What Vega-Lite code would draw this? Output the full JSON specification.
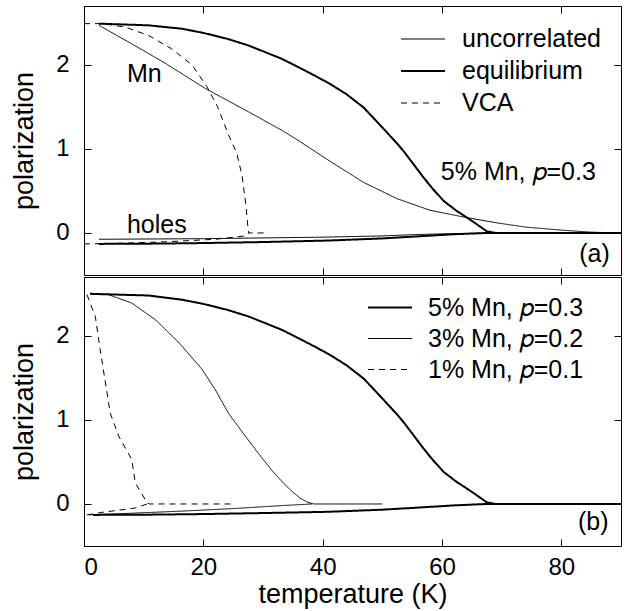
{
  "$schema": "https://vega.github.io/schema/vega-lite/v6.json",
  "padding": {"left": 10, "top": 5, "right": 10, "bottom": 5},
  "spacing": 0,
  "config": {
    "font": "Liberation Sans",
    "view": {"stroke": "#000", "strokeWidth": 1},
    "axis": {"domain": false, "grid": false, "tickColor": "#000", "tickSize": -7, "labelFontSize": 24, "labelColor": "#000", "labelPadding": 22, "titleFontSize": 27, "titleFontWeight": "normal", "titleColor": "#000", "titlePadding": 10},
    "axisX": {"labelPadding": 16, "titlePadding": 2},
    "axisY": {"titlePadding": 17},
    "legend": {"orient": "none", "title": null, "labelFontSize": 25, "labelColor": "#000", "symbolType": "stroke", "symbolSize": 1936, "symbolStrokeColor": "#000", "padding": 0, "rowPadding": 0, "labelFont": "Liberation Sans"},
    "text": {"font": "Liberation Sans", "fontSize": 25, "color": "#000", "align": "left", "baseline": "alphabetic"}
  },
  "datasets": {
    "a": [
      {"m": "equilibrium", "p": "Mn", "T": 2.5, "P": 2.49},
      {"m": "equilibrium", "p": "Mn", "T": 10.8, "P": 2.47},
      {"m": "equilibrium", "p": "Mn", "T": 16.4, "P": 2.43},
      {"m": "equilibrium", "p": "Mn", "T": 20, "P": 2.38},
      {"m": "equilibrium", "p": "Mn", "T": 24, "P": 2.31},
      {"m": "equilibrium", "p": "Mn", "T": 27.6, "P": 2.23},
      {"m": "equilibrium", "p": "Mn", "T": 33.2, "P": 2.07},
      {"m": "equilibrium", "p": "Mn", "T": 36, "P": 1.97},
      {"m": "equilibrium", "p": "Mn", "T": 39, "P": 1.86},
      {"m": "equilibrium", "p": "Mn", "T": 41.3, "P": 1.77},
      {"m": "equilibrium", "p": "Mn", "T": 44, "P": 1.65},
      {"m": "equilibrium", "p": "Mn", "T": 46.9, "P": 1.49},
      {"m": "equilibrium", "p": "Mn", "T": 50.2, "P": 1.24},
      {"m": "equilibrium", "p": "Mn", "T": 52.4, "P": 1.07},
      {"m": "equilibrium", "p": "Mn", "T": 53.6, "P": 0.97},
      {"m": "equilibrium", "p": "Mn", "T": 55.2, "P": 0.82},
      {"m": "equilibrium", "p": "Mn", "T": 56.9, "P": 0.66},
      {"m": "equilibrium", "p": "Mn", "T": 58.5, "P": 0.52},
      {"m": "equilibrium", "p": "Mn", "T": 60.3, "P": 0.38},
      {"m": "equilibrium", "p": "Mn", "T": 62.5, "P": 0.26},
      {"m": "equilibrium", "p": "Mn", "T": 63.6, "P": 0.21},
      {"m": "equilibrium", "p": "Mn", "T": 65.5, "P": 0.12},
      {"m": "equilibrium", "p": "Mn", "T": 67.5, "P": 0.02},
      {"m": "equilibrium", "p": "Mn", "T": 69, "P": 0},
      {"m": "equilibrium", "p": "Mn", "T": 90, "P": 0},
      {"m": "equilibrium", "p": "holes", "T": 2.5, "P": -0.13},
      {"m": "equilibrium", "p": "holes", "T": 10, "P": -0.128},
      {"m": "equilibrium", "p": "holes", "T": 20, "P": -0.12},
      {"m": "equilibrium", "p": "holes", "T": 30, "P": -0.108},
      {"m": "equilibrium", "p": "holes", "T": 41, "P": -0.09},
      {"m": "equilibrium", "p": "holes", "T": 50, "P": -0.065},
      {"m": "equilibrium", "p": "holes", "T": 56, "P": -0.04},
      {"m": "equilibrium", "p": "holes", "T": 62, "P": -0.015},
      {"m": "equilibrium", "p": "holes", "T": 67.5, "P": 0},
      {"m": "equilibrium", "p": "holes", "T": 90, "P": 0},
      {"m": "uncorrelated", "p": "Mn", "T": 2.5, "P": 2.47},
      {"m": "uncorrelated", "p": "Mn", "T": 8, "P": 2.25},
      {"m": "uncorrelated", "p": "Mn", "T": 13.6, "P": 2.02},
      {"m": "uncorrelated", "p": "Mn", "T": 20.3, "P": 1.72},
      {"m": "uncorrelated", "p": "Mn", "T": 27.6, "P": 1.44},
      {"m": "uncorrelated", "p": "Mn", "T": 33.2, "P": 1.22},
      {"m": "uncorrelated", "p": "Mn", "T": 35.7, "P": 1.11},
      {"m": "uncorrelated", "p": "Mn", "T": 41.3, "P": 0.85},
      {"m": "uncorrelated", "p": "Mn", "T": 46.9, "P": 0.6},
      {"m": "uncorrelated", "p": "Mn", "T": 52.4, "P": 0.41},
      {"m": "uncorrelated", "p": "Mn", "T": 58, "P": 0.27},
      {"m": "uncorrelated", "p": "Mn", "T": 63.6, "P": 0.19},
      {"m": "uncorrelated", "p": "Mn", "T": 69.2, "P": 0.12},
      {"m": "uncorrelated", "p": "Mn", "T": 74, "P": 0.07},
      {"m": "uncorrelated", "p": "Mn", "T": 79.8, "P": 0.035},
      {"m": "uncorrelated", "p": "Mn", "T": 84.8, "P": 0.01},
      {"m": "uncorrelated", "p": "Mn", "T": 90, "P": 0},
      {"m": "uncorrelated", "p": "holes", "T": 2.5, "P": -0.075},
      {"m": "uncorrelated", "p": "holes", "T": 20, "P": -0.068},
      {"m": "uncorrelated", "p": "holes", "T": 40, "P": -0.05},
      {"m": "uncorrelated", "p": "holes", "T": 50, "P": -0.035},
      {"m": "uncorrelated", "p": "holes", "T": 56, "P": -0.018},
      {"m": "uncorrelated", "p": "holes", "T": 62, "P": -0.008},
      {"m": "uncorrelated", "p": "holes", "T": 70, "P": -0.002},
      {"m": "uncorrelated", "p": "holes", "T": 90, "P": 0},
      {"m": "VCA", "p": "Mn", "T": 0, "P": 2.49},
      {"m": "VCA", "p": "Mn", "T": 3, "P": 2.49},
      {"m": "VCA", "p": "Mn", "T": 6.9, "P": 2.45},
      {"m": "VCA", "p": "Mn", "T": 10.8, "P": 2.35},
      {"m": "VCA", "p": "Mn", "T": 14.7, "P": 2.19},
      {"m": "VCA", "p": "Mn", "T": 18.1, "P": 2.0},
      {"m": "VCA", "p": "Mn", "T": 20.6, "P": 1.74},
      {"m": "VCA", "p": "Mn", "T": 22.4, "P": 1.5},
      {"m": "VCA", "p": "Mn", "T": 24.2, "P": 1.17},
      {"m": "VCA", "p": "Mn", "T": 25.6, "P": 0.95},
      {"m": "VCA", "p": "Mn", "T": 26.5, "P": 0.68},
      {"m": "VCA", "p": "Mn", "T": 27.1, "P": 0.35},
      {"m": "VCA", "p": "Mn", "T": 27.5, "P": 0.05},
      {"m": "VCA", "p": "Mn", "T": 27.6, "P": 0},
      {"m": "VCA", "p": "Mn", "T": 30.2, "P": 0},
      {"m": "VCA", "p": "holes", "T": 0, "P": -0.13},
      {"m": "VCA", "p": "holes", "T": 5, "P": -0.125},
      {"m": "VCA", "p": "holes", "T": 13.7, "P": -0.105},
      {"m": "VCA", "p": "holes", "T": 22, "P": -0.075},
      {"m": "VCA", "p": "holes", "T": 27, "P": -0.035},
      {"m": "VCA", "p": "holes", "T": 27.6, "P": 0}
    ],
    "b": [
      {"m": "5% Mn, 𝑝=0.3", "p": "Mn", "T": 1, "P": 2.5},
      {"m": "5% Mn, 𝑝=0.3", "p": "Mn", "T": 10.8, "P": 2.48},
      {"m": "5% Mn, 𝑝=0.3", "p": "Mn", "T": 16.4, "P": 2.43},
      {"m": "5% Mn, 𝑝=0.3", "p": "Mn", "T": 20, "P": 2.38},
      {"m": "5% Mn, 𝑝=0.3", "p": "Mn", "T": 24, "P": 2.31},
      {"m": "5% Mn, 𝑝=0.3", "p": "Mn", "T": 27.6, "P": 2.23},
      {"m": "5% Mn, 𝑝=0.3", "p": "Mn", "T": 33.2, "P": 2.07},
      {"m": "5% Mn, 𝑝=0.3", "p": "Mn", "T": 36, "P": 1.97},
      {"m": "5% Mn, 𝑝=0.3", "p": "Mn", "T": 39, "P": 1.86},
      {"m": "5% Mn, 𝑝=0.3", "p": "Mn", "T": 41.3, "P": 1.77},
      {"m": "5% Mn, 𝑝=0.3", "p": "Mn", "T": 44, "P": 1.65},
      {"m": "5% Mn, 𝑝=0.3", "p": "Mn", "T": 46.9, "P": 1.49},
      {"m": "5% Mn, 𝑝=0.3", "p": "Mn", "T": 50.2, "P": 1.24},
      {"m": "5% Mn, 𝑝=0.3", "p": "Mn", "T": 52.4, "P": 1.07},
      {"m": "5% Mn, 𝑝=0.3", "p": "Mn", "T": 53.6, "P": 0.97},
      {"m": "5% Mn, 𝑝=0.3", "p": "Mn", "T": 55.2, "P": 0.82},
      {"m": "5% Mn, 𝑝=0.3", "p": "Mn", "T": 56.9, "P": 0.66},
      {"m": "5% Mn, 𝑝=0.3", "p": "Mn", "T": 58.5, "P": 0.52},
      {"m": "5% Mn, 𝑝=0.3", "p": "Mn", "T": 60.3, "P": 0.38},
      {"m": "5% Mn, 𝑝=0.3", "p": "Mn", "T": 62.5, "P": 0.26},
      {"m": "5% Mn, 𝑝=0.3", "p": "Mn", "T": 63.6, "P": 0.21},
      {"m": "5% Mn, 𝑝=0.3", "p": "Mn", "T": 65.5, "P": 0.12},
      {"m": "5% Mn, 𝑝=0.3", "p": "Mn", "T": 67.5, "P": 0.02},
      {"m": "5% Mn, 𝑝=0.3", "p": "Mn", "T": 69, "P": 0},
      {"m": "5% Mn, 𝑝=0.3", "p": "Mn", "T": 90, "P": 0},
      {"m": "5% Mn, 𝑝=0.3", "p": "holes", "T": 1.5, "P": -0.13},
      {"m": "5% Mn, 𝑝=0.3", "p": "holes", "T": 10, "P": -0.128},
      {"m": "5% Mn, 𝑝=0.3", "p": "holes", "T": 20, "P": -0.12},
      {"m": "5% Mn, 𝑝=0.3", "p": "holes", "T": 30, "P": -0.108},
      {"m": "5% Mn, 𝑝=0.3", "p": "holes", "T": 41, "P": -0.093},
      {"m": "5% Mn, 𝑝=0.3", "p": "holes", "T": 50, "P": -0.068},
      {"m": "5% Mn, 𝑝=0.3", "p": "holes", "T": 56, "P": -0.043},
      {"m": "5% Mn, 𝑝=0.3", "p": "holes", "T": 62, "P": -0.017},
      {"m": "5% Mn, 𝑝=0.3", "p": "holes", "T": 67.5, "P": 0},
      {"m": "5% Mn, 𝑝=0.3", "p": "holes", "T": 90, "P": 0},
      {"m": "3% Mn, 𝑝=0.2", "p": "Mn", "T": 1, "P": 2.5},
      {"m": "3% Mn, 𝑝=0.2", "p": "Mn", "T": 4.1, "P": 2.49},
      {"m": "3% Mn, 𝑝=0.2", "p": "Mn", "T": 8, "P": 2.39},
      {"m": "3% Mn, 𝑝=0.2", "p": "Mn", "T": 12, "P": 2.19},
      {"m": "3% Mn, 𝑝=0.2", "p": "Mn", "T": 15.9, "P": 1.92},
      {"m": "3% Mn, 𝑝=0.2", "p": "Mn", "T": 19.8, "P": 1.6},
      {"m": "3% Mn, 𝑝=0.2", "p": "Mn", "T": 22, "P": 1.36},
      {"m": "3% Mn, 𝑝=0.2", "p": "Mn", "T": 24.2, "P": 1.08},
      {"m": "3% Mn, 𝑝=0.2", "p": "Mn", "T": 27, "P": 0.81},
      {"m": "3% Mn, 𝑝=0.2", "p": "Mn", "T": 29.8, "P": 0.55},
      {"m": "3% Mn, 𝑝=0.2", "p": "Mn", "T": 31.6, "P": 0.39},
      {"m": "3% Mn, 𝑝=0.2", "p": "Mn", "T": 33.4, "P": 0.25},
      {"m": "3% Mn, 𝑝=0.2", "p": "Mn", "T": 35, "P": 0.14},
      {"m": "3% Mn, 𝑝=0.2", "p": "Mn", "T": 36.2, "P": 0.07},
      {"m": "3% Mn, 𝑝=0.2", "p": "Mn", "T": 37.5, "P": 0.02},
      {"m": "3% Mn, 𝑝=0.2", "p": "Mn", "T": 38.5, "P": 0},
      {"m": "3% Mn, 𝑝=0.2", "p": "Mn", "T": 50, "P": 0},
      {"m": "3% Mn, 𝑝=0.2", "p": "holes", "T": 0.8, "P": -0.13},
      {"m": "3% Mn, 𝑝=0.2", "p": "holes", "T": 8, "P": -0.11},
      {"m": "3% Mn, 𝑝=0.2", "p": "holes", "T": 16.4, "P": -0.085},
      {"m": "3% Mn, 𝑝=0.2", "p": "holes", "T": 25, "P": -0.055},
      {"m": "3% Mn, 𝑝=0.2", "p": "holes", "T": 33, "P": -0.02},
      {"m": "3% Mn, 𝑝=0.2", "p": "holes", "T": 38.2, "P": 0},
      {"m": "1% Mn, 𝑝=0.1", "p": "Mn", "T": 0.5, "P": 2.49},
      {"m": "1% Mn, 𝑝=0.1", "p": "Mn", "T": 1.9, "P": 2.23},
      {"m": "1% Mn, 𝑝=0.1", "p": "Mn", "T": 2.7, "P": 1.84},
      {"m": "1% Mn, 𝑝=0.1", "p": "Mn", "T": 3.6, "P": 1.44},
      {"m": "1% Mn, 𝑝=0.1", "p": "Mn", "T": 4.4, "P": 1.08},
      {"m": "1% Mn, 𝑝=0.1", "p": "Mn", "T": 5.8, "P": 0.81},
      {"m": "1% Mn, 𝑝=0.1", "p": "Mn", "T": 8, "P": 0.53},
      {"m": "1% Mn, 𝑝=0.1", "p": "Mn", "T": 8.6, "P": 0.25},
      {"m": "1% Mn, 𝑝=0.1", "p": "Mn", "T": 10.6, "P": 0.01},
      {"m": "1% Mn, 𝑝=0.1", "p": "Mn", "T": 11, "P": 0},
      {"m": "1% Mn, 𝑝=0.1", "p": "Mn", "T": 25, "P": 0},
      {"m": "1% Mn, 𝑝=0.1", "p": "holes", "T": 0.5, "P": -0.13},
      {"m": "1% Mn, 𝑝=0.1", "p": "holes", "T": 3, "P": -0.1},
      {"m": "1% Mn, 𝑝=0.1", "p": "holes", "T": 8.6, "P": -0.048},
      {"m": "1% Mn, 𝑝=0.1", "p": "holes", "T": 10.6, "P": 0}
    ],
    "annA": [
      {"T": 7.2, "P": 1.79, "label": "Mn"},
      {"T": 7.2, "P": 0.0, "label": "holes"},
      {"T": 59.8, "P": 0.635, "label": "5% Mn, 𝑝=0.3"},
      {"T": 83.0, "P": -0.34, "label": "(a)"}
    ],
    "annB": [
      {"T": 82.8, "P": -0.31, "label": "(b)"}
    ]
  },
  "vconcat": [
    {
      "width": 537,
      "height": 269,
      "layer": [
        {
          "data": {"name": "a"},
          "mark": {"type": "line", "color": "#000", "strokeCap": "butt"},
          "encoding": {
            "x": {"field": "T", "type": "quantitative", "scale": {"domain": [0, 90], "nice": false, "zero": false}, "axis": {"orient": "bottom", "values": [0, 20, 40, 60, 80], "labels": false, "title": null}},
            "y": {"field": "P", "type": "quantitative", "scale": {"domain": [-0.5, 2.7], "nice": false, "zero": false}, "axis": {"orient": "left", "values": [0, 1, 2], "title": "polarization"}},
            "detail": {"field": "p"},
            "strokeDash": {"field": "m", "type": "nominal", "scale": {"domain": ["uncorrelated", "equilibrium", "VCA"], "range": [[1, 0], [1, 0], [6, 5]]}, "legend": {"legendX": 316, "legendY": 17, "labelOffset": 16, "clipHeight": 32}},
            "strokeWidth": {"field": "m", "type": "nominal", "scale": {"type": "ordinal", "domain": ["uncorrelated", "equilibrium", "VCA"], "range": [1, 2, 1]}, "legend": {"legendX": 316, "legendY": 17, "labelOffset": 16, "clipHeight": 32}}
          }
        },
        {
          "data": {"name": "annA"},
          "mark": {"type": "text"},
          "encoding": {
            "x": {"field": "T", "type": "quantitative", "axis": {"orient": "top", "values": [0, 20, 40, 60, 80], "labels": false, "title": null}},
            "y": {"field": "P", "type": "quantitative", "axis": {"orient": "right", "values": [0, 1, 2], "labels": false, "title": null}},
            "text": {"field": "label"}
          }
        }
      ],
      "resolve": {"axis": {"x": "independent", "y": "independent"}}
    },
    {
      "width": 537,
      "height": 269,
      "layer": [
        {
          "data": {"name": "b"},
          "mark": {"type": "line", "color": "#000", "strokeCap": "butt"},
          "encoding": {
            "x": {"field": "T", "type": "quantitative", "scale": {"domain": [0, 90], "nice": false, "zero": false}, "axis": {"orient": "bottom", "values": [0, 20, 40, 60, 80], "title": "temperature (K)"}},
            "y": {"field": "P", "type": "quantitative", "scale": {"domain": [-0.5, 2.7], "nice": false, "zero": false}, "axis": {"orient": "left", "values": [0, 1, 2], "title": "polarization"}},
            "detail": {"field": "p"},
            "strokeDash": {"field": "m", "type": "nominal", "scale": {"domain": ["5% Mn, 𝑝=0.3", "3% Mn, 𝑝=0.2", "1% Mn, 𝑝=0.1"], "range": [[1, 0], [1, 0], [6, 5]]}, "legend": {"legendX": 283, "legendY": 15, "labelOffset": 15, "clipHeight": 31}},
            "strokeWidth": {"field": "m", "type": "nominal", "scale": {"type": "ordinal", "domain": ["5% Mn, 𝑝=0.3", "3% Mn, 𝑝=0.2", "1% Mn, 𝑝=0.1"], "range": [2, 1, 1]}, "legend": {"legendX": 283, "legendY": 15, "labelOffset": 15, "clipHeight": 31}}
          }
        },
        {
          "data": {"name": "annB"},
          "mark": {"type": "text"},
          "encoding": {
            "x": {"field": "T", "type": "quantitative", "axis": {"orient": "top", "values": [0, 20, 40, 60, 80], "labels": false, "title": null}},
            "y": {"field": "P", "type": "quantitative", "axis": {"orient": "right", "values": [0, 1, 2], "labels": false, "title": null}},
            "text": {"field": "label"}
          }
        }
      ],
      "resolve": {"axis": {"x": "independent", "y": "independent"}}
    }
  ],
  "resolve": {"scale": {"strokeDash": "independent", "strokeWidth": "independent"}, "legend": {"strokeDash": "independent", "strokeWidth": "independent"}}
}
